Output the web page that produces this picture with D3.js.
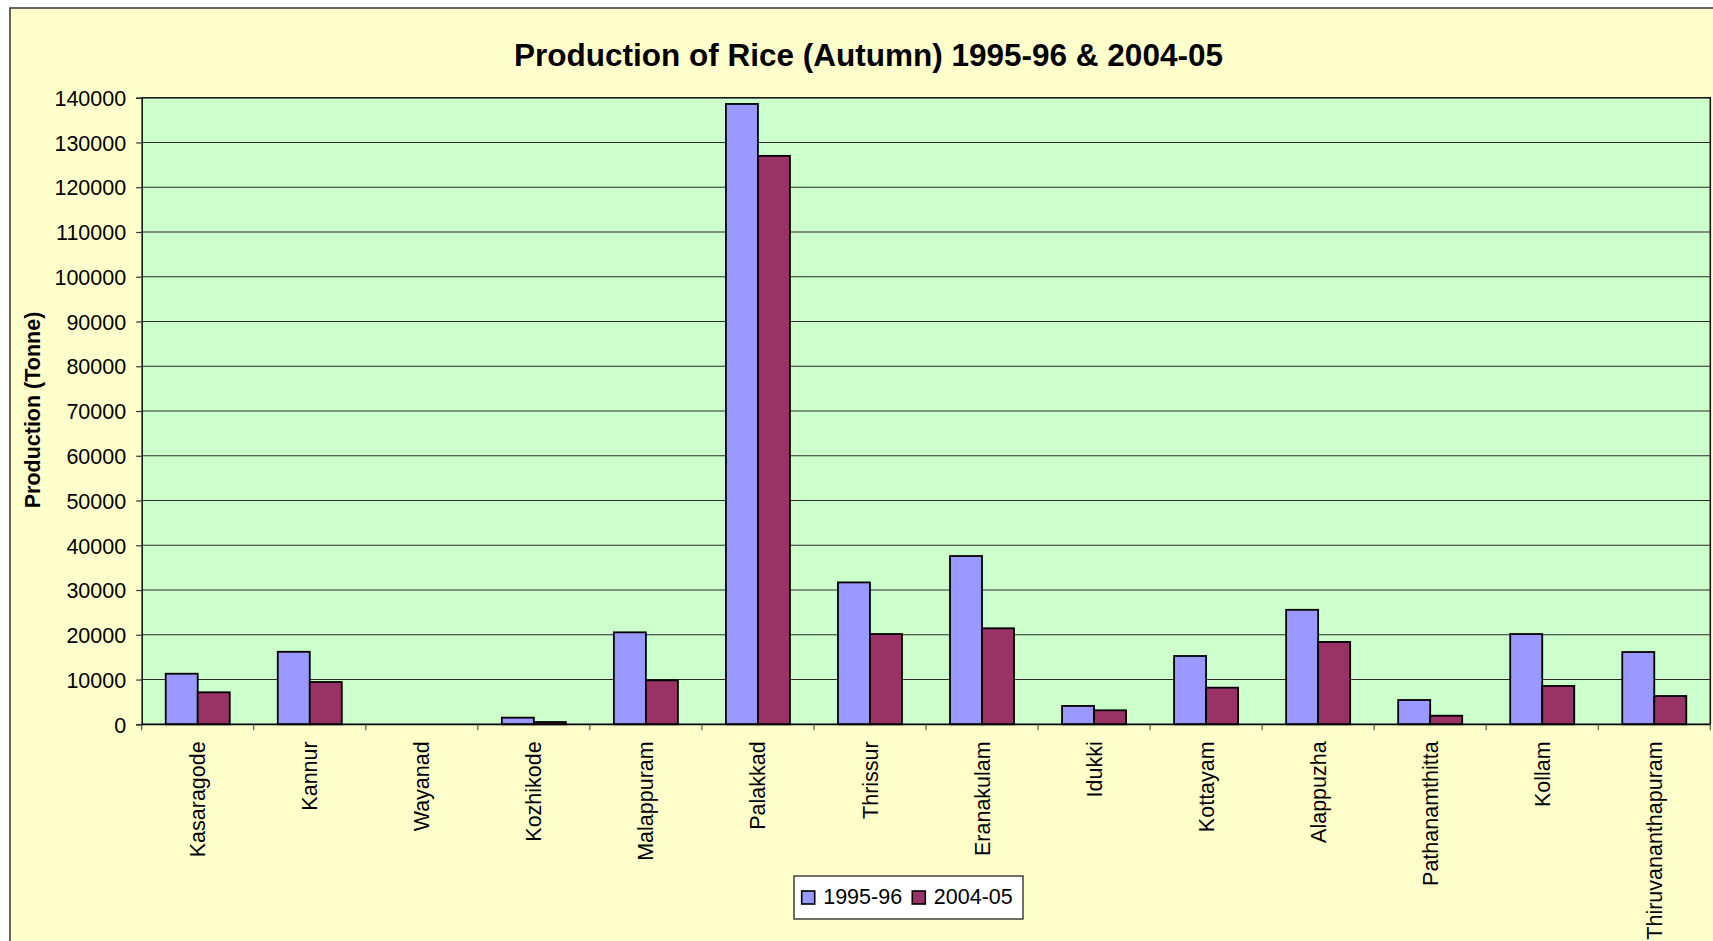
<!DOCTYPE html>
<html>
<head>
<meta charset="utf-8">
<title>Production of Rice (Autumn) 1995-96 &amp; 2004-05</title>
<script src="https://cdn.jsdelivr.net/npm/d3@7/dist/d3.min.js"></script>
<style>
  html, body { margin: 0; padding: 0; background: #ffffff; }
  svg { display: block; }
  text { font-family: "Liberation Sans", Arial, sans-serif; fill: #000; }
</style>
</head>
<body>
<svg id="chart" width="1713" height="941"></svg>
<script>
// Districts of Kerala, in the order shown along the x axis
const districts = [
  "Kasaragode", "Kannur", "Wayanad", "Kozhikode", "Malappuram", "Palakkad",
  "Thrissur", "Eranakulam", "Idukki", "Kottayam", "Alappuzha",
  "Pathanamthitta", "Kollam", "Thiruvananthapuram"
];

// Autumn rice production (tonnes)
const production1995 = [
  11300, 16200, 0, 1480, 20550, 138600, 31700, 37600, 4100, 15260, 25580, 5430, 20170, 16150
];
const production2004 = [
  7150, 9450, 0, 510, 9830, 127000, 20170, 21450, 3130, 8180, 18400, 1920, 8560, 6320
];

const seriesNames = ["1995-96", "2004-05"];
const seriesColors = ["#9999FF", "#993366"];
const yTicks = [0, 10000, 20000, 30000, 40000, 50000, 60000, 70000,
                80000, 90000, 100000, 110000, 120000, 130000, 140000];

const titleText = "Production of Rice (Autumn) 1995-96 & 2004-05";
const yTitleText = "Production (Tonne)";

const svg = d3.select("#chart");

// Chart area (pale yellow) with its frame
svg.append("rect")
  .attr("x", 10).attr("y", 8)
  .attr("width", 1740).attr("height", 980)
  .attr("fill", "#FFFFCC")
  .attr("stroke", "#404040")
  .attr("stroke-width", 1.6);

const plot = { left: 141.7, right: 1710.3, top: 97.7, bottom: 724.3 };

const x = d3.scaleBand()
  .domain(districts)
  .range([plot.left, plot.right])
  .paddingInner(0).paddingOuter(0);

const y = d3.scaleLinear()
  .domain([0, 140000])
  .range([plot.bottom, plot.top]);

// Two bars per category with a gap of 150% of a bar's width
const barW = x.bandwidth() / 3.5;
const inner = d3.scaleBand()
  .domain(seriesNames)
  .range([0.75 * barW, 2.75 * barW]);

// Plot area background
svg.append("rect")
  .attr("x", plot.left).attr("y", plot.top)
  .attr("width", plot.right - plot.left)
  .attr("height", plot.bottom - plot.top)
  .attr("fill", "#CCFFCC");

// Horizontal gridlines
svg.append("g")
  .selectAll("line")
  .data(yTicks.filter(t => t > 0))
  .join("line")
  .attr("x1", plot.left).attr("x2", plot.right)
  .attr("y1", d => y(d)).attr("y2", d => y(d))
  .attr("stroke", "#2b2b2b")
  .attr("stroke-width", 1.1);

// Plot area frame (top and right edges)
svg.append("path")
  .attr("d", `M${plot.left},${plot.top}H${plot.right}V${plot.bottom}`)
  .attr("fill", "none")
  .attr("stroke", "#1a1a1a")
  .attr("stroke-width", 1.6);

// Bars
const rows = districts.map((d, i) => ({
  district: d,
  values: [production1995[i], production2004[i]]
}));

const groups = svg.append("g")
  .selectAll("g")
  .data(rows)
  .join("g")
  .attr("transform", d => `translate(${x(d.district)},0)`);

groups.selectAll("rect")
  .data(d => d.values.map((v, k) => ({ series: seriesNames[k], value: v, k })))
  .join("rect")
  .filter(d => d.value > 0)
  .attr("x", d => inner(d.series))
  .attr("y", d => y(d.value))
  .attr("width", inner.bandwidth())
  .attr("height", d => y(0) - y(d.value))
  .attr("fill", d => seriesColors[d.k])
  .attr("stroke", "#000")
  .attr("stroke-width", 1.8);

// Y axis
const yAxis = d3.axisLeft(y)
  .tickValues(yTicks)
  .tickFormat(d3.format("d"))
  .tickSize(5.5)
  .tickPadding(10);

const yG = svg.append("g")
  .attr("transform", `translate(${plot.left},0)`)
  .call(yAxis);
yG.select(".domain").attr("stroke", "#1a1a1a").attr("stroke-width", 1.6);
yG.selectAll(".tick line").attr("stroke", "#333").attr("stroke-width", 1.2);
yG.selectAll(".tick text")
  .attr("font-size", "21.5px")
  .attr("font-family", "Liberation Sans, Arial, sans-serif")
  .attr("dy", "0.36em");

// X axis: ticks sit on the category boundaries
const xG = svg.append("g")
  .attr("transform", `translate(0,${plot.bottom})`);
xG.append("line")
  .attr("x1", plot.left).attr("x2", plot.right)
  .attr("stroke", "#000").attr("stroke-width", 1.8);
xG.selectAll("line.tick")
  .data(districts.map(d => x(d)).concat([plot.right]))
  .join("line")
  .attr("class", "tick")
  .attr("x1", d => d).attr("x2", d => d)
  .attr("y1", 0).attr("y2", 6)
  .attr("stroke", "#555").attr("stroke-width", 1.2);

// Category labels, rotated to read upward
xG.selectAll("text")
  .data(districts)
  .join("text")
  .attr("transform", d => `translate(${x(d) + x.bandwidth() / 2},17) rotate(-90)`)
  .attr("text-anchor", "end")
  .attr("dy", "0.35em")
  .attr("font-size", "21.5px")
  .text(d => d);

// Title
svg.append("text")
  .attr("x", 868.5).attr("y", 66)
  .attr("text-anchor", "middle")
  .attr("font-size", "31.5px")
  .attr("font-weight", "bold")
  .text(titleText);

// Y axis title
svg.append("text")
  .attr("transform", "translate(40,410) rotate(-90)")
  .attr("text-anchor", "middle")
  .attr("font-size", "21.5px")
  .attr("font-weight", "bold")
  .text(yTitleText);

// Legend
const legend = svg.append("g");
legend.append("rect")
  .attr("x", 794).attr("y", 876)
  .attr("width", 229).attr("height", 43)
  .attr("fill", "#ffffff")
  .attr("stroke", "#333").attr("stroke-width", 1.4);

const legendX = [801.7, 912.3];
seriesNames.forEach((name, k) => {
  legend.append("rect")
    .attr("x", legendX[k]).attr("y", 891)
    .attr("width", 13).attr("height", 13)
    .attr("fill", seriesColors[k])
    .attr("stroke", "#000").attr("stroke-width", 1.6);
  legend.append("text")
    .attr("x", legendX[k] + 21.5).attr("y", 904)
    .attr("font-size", "21.5px")
    .text(name);
});
</script>
</body>
</html>
